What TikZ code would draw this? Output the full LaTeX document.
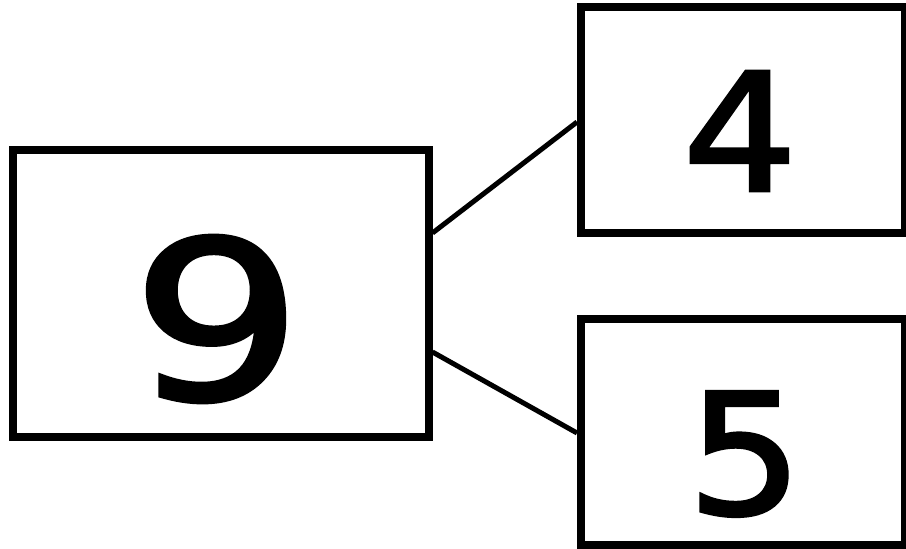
\documentclass[tikz,border=0pt]{standalone}
\usepackage{fontspec}
\setmainfont{DejaVu Sans}
\newfontfamily\digitfont[FakeBold=2]{DejaVu Sans}
\begin{document}
\begin{tikzpicture}[x=1pt,y=-1pt,
  numbox/.style={draw=black,line width=8pt,rectangle,inner sep=0pt,fill=white},
  digit/.style={inner sep=0pt},
  link/.style={draw=black,line width=5pt}]
\useasboundingbox (0,0) rectangle (906,549);
\fill[white] (0,0) rectangle (906,549);
\node[numbox,minimum width=416pt,minimum height=287pt] (L) at (220.5,293) {};
\node[numbox,minimum width=324pt,minimum height=225.5pt] (T) at (743,120) {};
\node[numbox,minimum width=324pt,minimum height=225.5pt] (B) at (743,432) {};
\node[digit] (n9) at (217,319) {\scalebox{1.22}[1]{\digitfont\fontsize{220}{240}\selectfont 9}};
\node[digit] (n4) at (740,131) {\scalebox{1.1}[1]{\digitfont\fontsize{164}{180}\selectfont 4}};
\node[digit] (n5) at (745,454) {\scalebox{1.08}[1]{\digitfont\fontsize{168}{180}\selectfont 5}};
\draw[link] ([yshift=60pt]L.east) -- ([yshift=-2pt]T.west);
\draw[link] ([yshift=-59pt]L.east) -- ([yshift=-1pt]B.west);
\end{tikzpicture}
\end{document}
